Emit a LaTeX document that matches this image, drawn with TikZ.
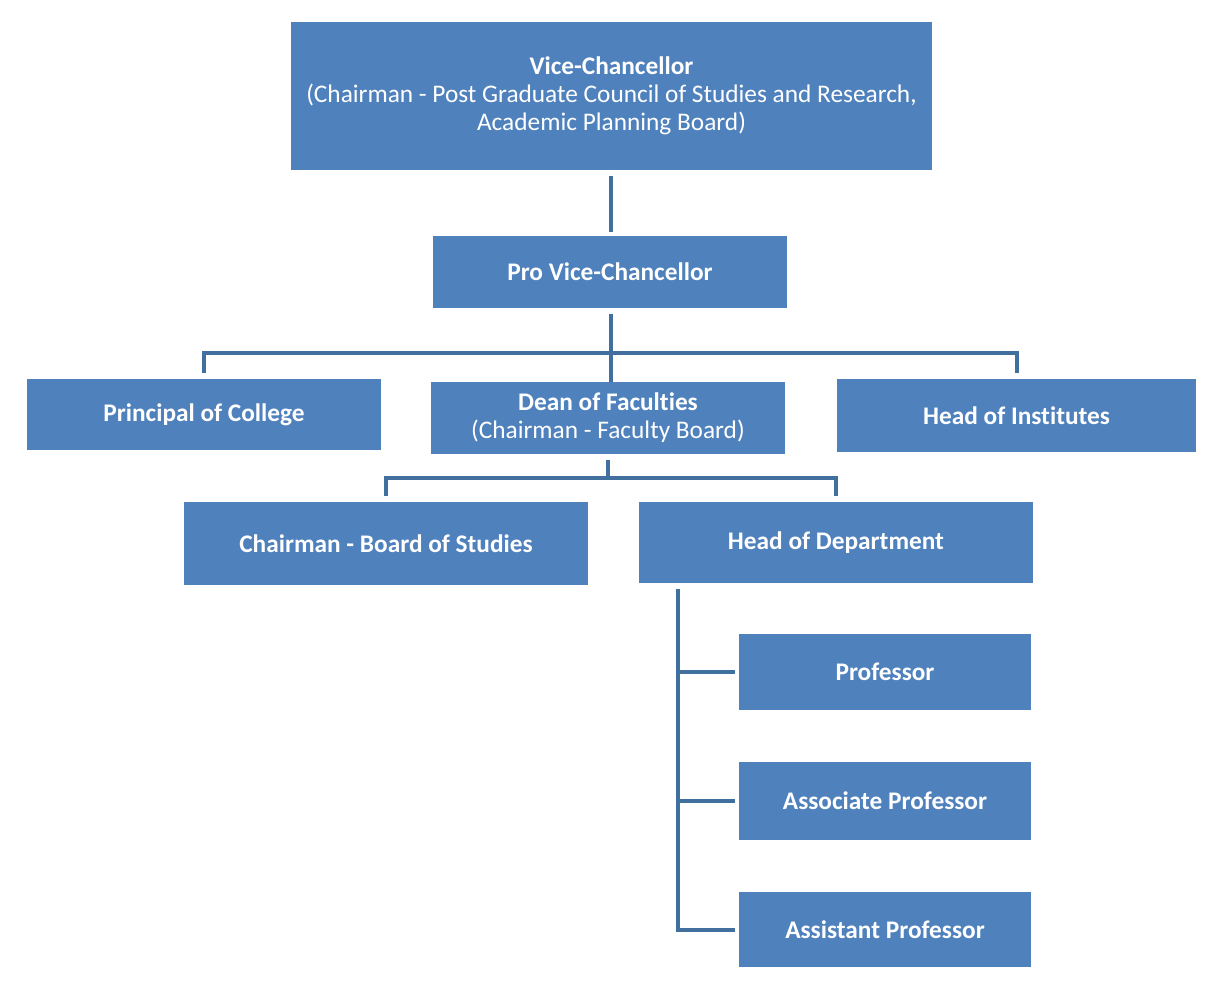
\documentclass[tikz,border=0pt]{standalone}
\usepackage{fontspec}
\setmainfont{Carlito}[Ligatures=NoCommon]
\definecolor{boxblue}{HTML}{4F81BD}
\definecolor{lineblue}{HTML}{41709E}
\begin{document}
\begin{tikzpicture}[x=0.75pt,y=-0.75pt,
  bx/.style n args={2}{rectangle, fill=boxblue, draw=none, text=white, inner sep=0pt,
     align=center, font=\bfseries\fontsize{19}{21}\selectfont,
     minimum width=#1*0.75pt, minimum height=#2*0.75pt},
  conn/.style={draw=lineblue, line width=3pt}]
\useasboundingbox[fill=white] (0,0) rectangle (1216,1000);

\node[bx={641}{148}] (vc) at (611.5,96) {Vice-Chancellor\\\mdseries(Chairman - Post Graduate Council of Studies and Research,\\\mdseries Academic Planning Board)};
\node[bx={354}{72}] (pvc) at (610,272) {Pro Vice-Chancellor};
\node[bx={354}{71}] (prin) at (204,414.5) {Principal of College};
\node[bx={354}{72}] (dean) at (608,418) {Dean of Faculties\\\mdseries(Chairman - Faculty Board)};
\node[bx={359}{73}] (inst) at (1016.5,415.5) {Head of Institutes};
\node[bx={404}{83}] (bos) at (386,543.5) {Chairman - Board of Studies};
\node[bx={394}{81}] (hod) at (836,542.5) {Head of Department};
\node[bx={292}{76}] (prof) at (885,672) {Professor};
\node[bx={292}{78}] (assoc) at (885,801) {Associate Professor};
\node[bx={292}{75}] (asst) at (885,929.5) {Assistant Professor};

\coordinate (bar1) at (611,353);
\coordinate (bar2) at (608,478);
\coordinate (trunk) at (678,0);

% VC to PVC
\draw[conn] ([yshift=-4pt]vc.south -| bar1) -- ([yshift=3pt]pvc.north -| bar1);
% PVC to level 3
\draw[conn] ([yshift=-4pt]pvc.south -| bar1) -- (dean.north -| bar1);
\draw[conn] ([yshift=4pt]prin.north) -- (prin.north |- bar1) -- (inst.north |- bar1) -- ([yshift=4pt]inst.north);
% Dean to level 4
\draw[conn] ([yshift=-4pt]dean.south -| bar2) -- (bar2);
\draw[conn] ([yshift=4pt]bos.north) -- (bos.north |- bar2) -- (hod.north |- bar2) -- ([yshift=4pt]hod.north);
% HoD to staff
\draw[conn] ([yshift=-4pt]hod.south -| trunk) |- ([xshift=-3pt]asst.west);
\draw[conn] (trunk |- prof.west) -- ([xshift=-3pt]prof.west);
\draw[conn] (trunk |- assoc.west) -- ([xshift=-3pt]assoc.west);
\end{tikzpicture}
\end{document}
